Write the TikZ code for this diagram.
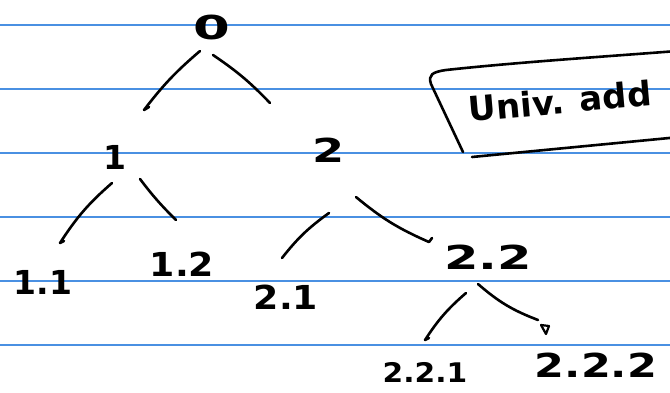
\documentclass[tikz,border=0pt]{standalone}
\usepackage{fontspec}
\newfontfamily\hand{DejaVu Sans}
\definecolor{rulecol}{HTML}{4A90E2}
\tikzset{
  lbl/.style={font=\hand\bfseries\fontsize{33}{33}\selectfont, inner sep=0pt, anchor=center},
  small/.style={font=\hand\bfseries\fontsize{27}{27}\selectfont},
  stroke/.style={line width=2.6pt, line cap=round, line join=round},
  ruleline/.style={rulecol, line width=1.4pt},
}
\begin{document}
\begin{tikzpicture}[x=1pt,y=-1pt]
\useasboundingbox (0,0) rectangle (670,392);
\fill[white] (0,0) rectangle (670,392);
\begin{scope}
\clip (0,0) rectangle (670,392);
\foreach \yy in {25,89,153,217,281,345} \draw[ruleline] (0,\yy) -- (670,\yy);

% nodes
\node[lbl] (n0) at (212,27) {\scalebox{1.6}[1]{0}};
\node[lbl] (n1) at (115,157) {1};
\node[lbl] (n2) at (329,150) {\scalebox{1.4}[1]{2}};
\node[lbl] (n11) at (43,282) {1.1};
\node[lbl] (n12) at (182,264) {\scalebox{1.1}[1]{1.2}};
\node[lbl] (n21) at (286,297) {\scalebox{1.1}[1]{2.1}};
\node[lbl] (n22) at (488,257) {\scalebox{1.5}[1]{2.2}};
\node[lbl,small] (n221) at (425,372) {\scalebox{1.1}[1]{2.2.1}};
\node[lbl] (n222) at (596,365) {\scalebox{1.3}[1]{2.2.2}};
\node[lbl, font=\hand\bfseries\fontsize{34}{34}\selectfont, rotate=5] (univ) at (560,101) {Univ. add};

% connectors
\draw[stroke] ([shift={(-12,24)}]n0.center) to[bend right=6] ([shift={(29,-47)}]n1.center) -- ++(5,-3);
\draw[stroke] ([shift={(1,28)}]n0.center) to[bend left=6] ([shift={(-59,-47)}]n2.center);
\draw[stroke] ([shift={(-3,26)}]n1.center) to[bend right=8] ([shift={(17,-39)}]n11.center) -- ++(4,-2);
\draw[stroke] ([shift={(25,22)}]n1.center) to[bend right=4] ([shift={(-6,-44)}]n12.center);
\draw[stroke] ([shift={(0,63)}]n2.center) to[bend right=8] ([shift={(-4,-39)}]n21.center);
\draw[stroke] ([shift={(27,47)}]n2.center) to[bend right=8] ([shift={(-59,-15)}]n22.center) -- ++(3,-4);
\draw[stroke] ([shift={(-22,36)}]n22.center) to[bend right=8] ([shift={(0,-32)}]n221.center) -- ++(4,-2);
\draw[stroke] ([shift={(-10,27)}]n22.center) to[bend right=10] ([shift={(-58,-45)}]n222.center);
\draw[stroke, line width=2.2pt] ([shift={(-55,-40)}]n222.center) -- ++(8,1) -- ++(-3,8) -- cycle;

% box
\draw[stroke] (463,152) -- (431,84) .. controls (428,75) and (432,72) .. (446,70) .. controls (520,62) and (600,57) .. (690,50);
\draw[stroke] (472,157) -- (690,136);
\end{scope}
\end{tikzpicture}
\end{document}
